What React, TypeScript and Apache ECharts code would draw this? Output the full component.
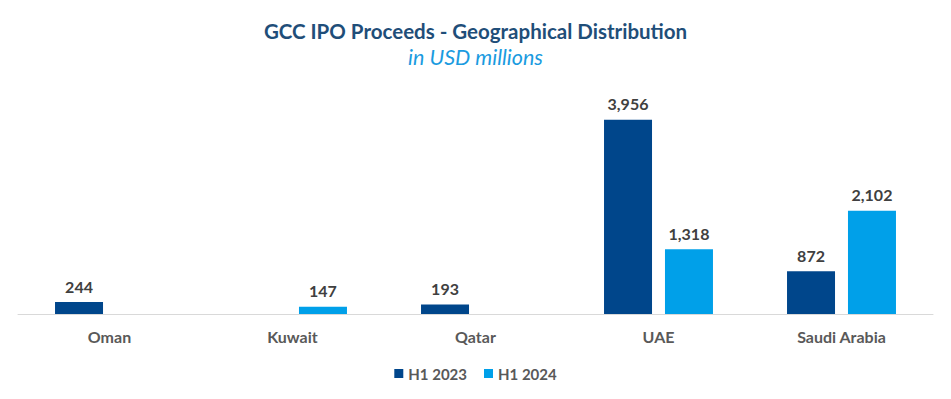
import React, { useEffect, useRef } from "react";
import * as echarts from "echarts";

const categories = ["Oman", "Kuwait", "Qatar", "UAE", "Saudi Arabia"];
const h12023 = [244, null, 193, 3956, 872];
const h12024 = [null, 147, null, 1318, 2102];
const seriesNames = ["H1 2023", "H1 2024"];
const colors = ["#00468B", "#00A0E9"];

export default function App() {
  const ref = useRef<HTMLDivElement>(null);
  useEffect(() => {
    if (!ref.current) return;
    const chart = echarts.init(ref.current, undefined, { renderer: "svg" });
    const font = "Lato, 'Noto Sans', sans-serif";
    const label = {
      show: true,
      position: "top",
      distance: 8,
      color: "#404040",
      fontFamily: font,
      fontWeight: "bold",
      fontSize: 16,
      formatter: (p: any) => Number(p.value).toLocaleString("en-US"),
    };
    chart.setOption({
      animation: false,
      backgroundColor: "#ffffff",
      title: {
        text: "GCC IPO Proceeds - Geographical Distribution",
        subtext: "in USD millions",
        left: "center",
        top: 15,
        itemGap: 5,
        textStyle: { color: "#1F4E79", fontFamily: font, fontWeight: "bold", fontSize: 20.5 },
        subtextStyle: { color: "#1A9BE0", fontFamily: font, fontStyle: "italic", fontSize: 21.5 },
      },
      legend: {
        data: seriesNames,
        bottom: 13,
        left: "center",
        itemWidth: 9,
        itemHeight: 9,
        itemGap: 17,
        icon: "rect",
        textStyle: { color: "#595959", fontFamily: font, fontWeight: "bold", fontSize: 15 },
      },
      grid: { left: 18, right: 18, top: 93, bottom: 85 },
      xAxis: {
        type: "category",
        data: categories,
        axisLine: { lineStyle: { color: "#D9D9D9", width: 1 } },
        axisTick: { show: false },
        axisLabel: { color: "#595959", fontFamily: font, fontWeight: "bold", fontSize: 16, margin: 14 },
      },
      yAxis: { type: "value", min: 0, max: 4500, show: false, splitLine: { show: false } },
      series: [
        { name: seriesNames[0], type: "bar", data: h12023, barWidth: 48, barGap: "27%", itemStyle: { color: colors[0] }, label },
        { name: seriesNames[1], type: "bar", data: h12024, barWidth: 48, barGap: "27%", itemStyle: { color: colors[1] }, label },
      ],
    });
    return () => chart.dispose();
  }, []);
  return <div ref={ref} style={{ width: 951, height: 399, position: "absolute", left: 0, top: 0 }} />;
}
